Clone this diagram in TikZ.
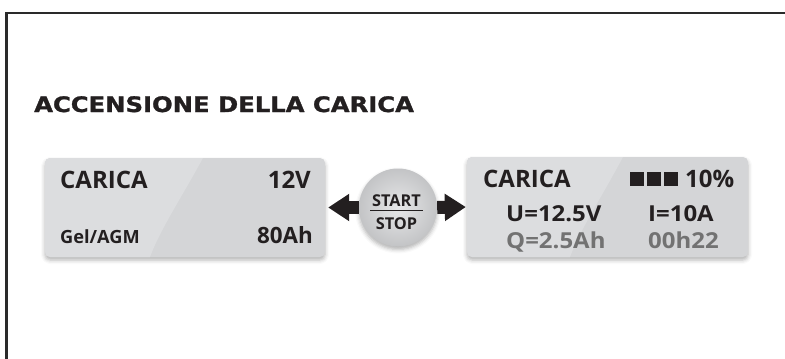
\documentclass[tikz,border=0pt]{standalone}
\usepackage{fontspec}
\usetikzlibrary{arrows.meta,shadows.blur}
\newfontfamily\dispfont{Open Sans}
\newfontfamily\ttlfont{DejaVu Sans}[FakeBold=1.2]
\definecolor{panelc}{HTML}{D4D5D7}
\definecolor{panelhl}{HTML}{DCDDDF}
\definecolor{ink}{HTML}{231F20}
\definecolor{dimink}{HTML}{727272}
\definecolor{framec}{HTML}{2A2A2A}
\newcommand{\widen}[1]{\scalebox{1.09}[1]{#1}}
\tikzset{
  panel/.style={draw=none, fill=panelc, rounded corners=5pt, inner sep=0pt,
    blur shadow={shadow xshift=0pt, shadow yshift=-3pt, shadow blur radius=4pt, shadow opacity=30}},
  btnstyle/.style={circle, draw=none, inner sep=0pt, minimum size=78pt,
    inner color=panelhl!70!white, outer color=panelc!92!black,
    blur shadow={shadow xshift=0pt, shadow yshift=-3pt, shadow blur radius=4pt, shadow opacity=30}},
  big/.style={inner sep=0pt, text=ink, font=\dispfont\bfseries\fontsize{24}{24}\selectfont},
  mid/.style={inner sep=0pt, text=ink, font=\dispfont\bfseries\fontsize{22}{22}\selectfont},
  midb/.style={inner sep=0pt, text=ink, font=\dispfont\bfseries\fontsize{22.4}{22.4}\selectfont},
  small/.style={inner sep=0pt, text=ink, font=\dispfont\bfseries\fontsize{18.2}{18.2}\selectfont},
  btntext/.style={inner sep=0pt, text=ink, font=\dispfont\bfseries\fontsize{16.3}{16.3}\selectfont},
  fat/.style={line width=13pt, draw=ink, -{Triangle[length=21pt, width=26pt]}},
  sq/.style={fill=ink, draw=none}
}
\begin{document}
\begin{tikzpicture}[x=1pt, y=-1pt]
\useasboundingbox (0,0) rectangle (785,359);
\clip (0,0) rectangle (785,359);
% frame
\draw[framec, line width=2.3pt] (6.5,380) -- (6.5,13) -- (800,13);
% title
\node[anchor=base west, inner sep=0pt, text=ink] (title) at (34,112)
  {\scalebox{1.14}[1]{\ttlfont\bfseries\fontsize{21.3}{21.3}\selectfont ACCENSIONE DELLA CARICA}};
% left panel
\node[panel, minimum width=280pt, minimum height=99pt] (lbox) at (185,207.5) {};
\begin{scope}
  \clip[rounded corners=5pt] (45,158) rectangle (325,257);
  \fill[panelhl] (40,150) -- (203,158) .. controls (180,200) and (160,230) .. (150,257) -- (40,265) -- cycle;
\end{scope}
% right panel
\node[panel, minimum width=281pt, minimum height=100pt] (rbox) at (607.5,207) {};
\begin{scope}
  \clip[rounded corners=5pt] (467,157) rectangle (748,257);
  \fill[panelhl] (460,150) -- (623,157) .. controls (600,200) and (580,230) .. (570,257) -- (460,265) -- cycle;
\end{scope}
% button
\node[btnstyle] (btn) at (398,207.5) {};
\node[btntext, anchor=base] (start) at (396.5,206) {START};
\node[btntext, anchor=base] (stop) at (396.5,229.5) {STOP};
\draw[ink, line width=1.5pt] (370,210.5) -- (423,210.5);
% arrows
\draw[fat, shorten >=3pt] (btn.west) -- (lbox.east);
\draw[fat, shorten >=1pt] (btn.east) -- (rbox.west);
% left panel texts
\node[big, anchor=base west] (l1) at (60,188) {CARICA};
\node[big, anchor=base east] (l2) at (311,188) {12V};
\node[small, anchor=base west] (l3) at (60,243) {Gel/AGM};
\node[midb, anchor=base east] (l4) at (313,243) {80Ah};
% right panel texts
\node[big, anchor=base west] (r1) at (483,187) {CARICA};
\fill[sq] (630,172) rectangle (644,186);
\fill[sq] (647,172) rectangle (661,186);
\fill[sq] (664,172) rectangle (678,186);
\node[big, anchor=base west] (r2) at (685,187) {10\%};
\node[mid, anchor=base west] (r3) at (506,221) {\widen{U=12.5V}};
\node[mid, anchor=base west] (r4) at (648,221) {\widen{I=10A}};
\node[mid, anchor=base west, text=dimink] (r5) at (506,248) {\widen{Q=2.5Ah}};
\node[mid, anchor=base west, text=dimink] (r6) at (648,248) {\widen{00h22}};
\end{tikzpicture}
\end{document}
